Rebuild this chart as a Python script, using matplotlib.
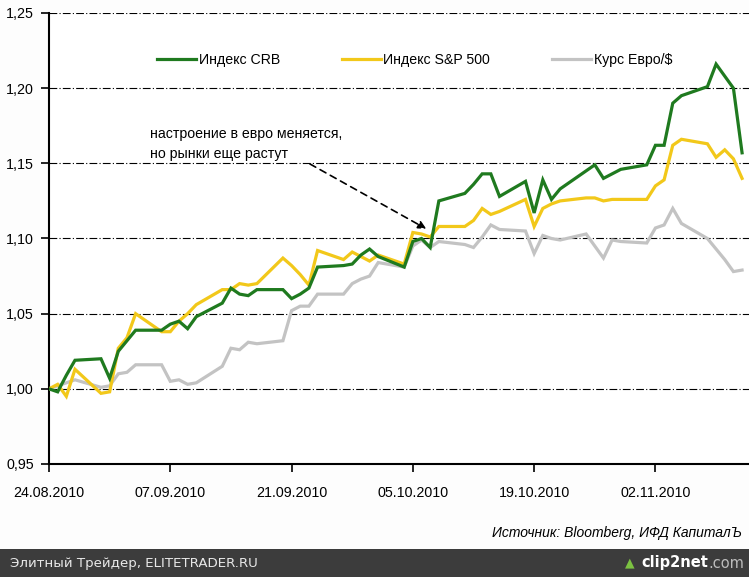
import matplotlib
matplotlib.use('Agg')
import matplotlib.pyplot as plt
import matplotlib.dates as mdates
from matplotlib.ticker import FuncFormatter
from matplotlib.lines import Line2D
import pandas as pd

plt.rcParams['font.family'] = ['Liberation Sans', 'DejaVu Sans']

# trading days (Sep 6 kept as in the source chart)
dates = pd.to_datetime([
    '2010-08-24', '2010-08-25', '2010-08-26', '2010-08-27', '2010-08-30', '2010-08-31',
    '2010-09-01', '2010-09-02', '2010-09-03', '2010-09-06', '2010-09-07', '2010-09-08',
    '2010-09-09', '2010-09-10', '2010-09-13', '2010-09-14', '2010-09-15', '2010-09-16',
    '2010-09-17', '2010-09-20', '2010-09-21', '2010-09-22', '2010-09-23', '2010-09-24',
    '2010-09-27', '2010-09-28', '2010-09-29', '2010-09-30', '2010-10-01', '2010-10-04',
    '2010-10-05', '2010-10-06', '2010-10-07', '2010-10-08', '2010-10-11', '2010-10-12',
    '2010-10-13', '2010-10-14', '2010-10-15', '2010-10-18', '2010-10-19', '2010-10-20',
    '2010-10-21', '2010-10-22', '2010-10-25', '2010-10-26', '2010-10-27', '2010-10-28',
    '2010-10-29', '2010-11-01', '2010-11-02', '2010-11-03', '2010-11-04', '2010-11-05',
    '2010-11-08', '2010-11-09', '2010-11-10', '2010-11-11', '2010-11-12',
])

crb = [1.000, 0.998, 1.009, 1.019, 1.020, 1.007, 1.025, 1.032, 1.039, 1.039,
       1.043, 1.045, 1.040, 1.048, 1.057, 1.067, 1.063, 1.062, 1.066, 1.066,
       1.060, 1.063, 1.067, 1.081, 1.082, 1.083, 1.089, 1.093, 1.088, 1.081,
       1.098, 1.100, 1.094, 1.125, 1.130, 1.136, 1.143, 1.143, 1.128, 1.138,
       1.117, 1.139, 1.126, 1.133, 1.145, 1.149, 1.140, 1.143, 1.146, 1.149,
       1.162, 1.162, 1.190, 1.195, 1.201, 1.216, 1.208, 1.200, 1.157]

sp500 = [1.000, 1.003, 0.995, 1.013, 0.997, 0.998, 1.027, 1.034, 1.050, 1.038,
         1.038, 1.045, 1.050, 1.056, 1.066, 1.066, 1.070, 1.069, 1.070, 1.087,
         1.082, 1.076, 1.069, 1.092, 1.086, 1.091, 1.088, 1.085, 1.089, 1.083,
         1.104, 1.103, 1.101, 1.108, 1.108, 1.112, 1.120, 1.116, 1.118, 1.126,
         1.108, 1.120, 1.123, 1.125, 1.127, 1.127, 1.125, 1.126, 1.126, 1.126,
         1.135, 1.139, 1.162, 1.166, 1.163, 1.154, 1.159, 1.153, 1.140]

eurusd = [1.000, 1.002, 1.004, 1.006, 1.001, 1.002, 1.010, 1.011, 1.016, 1.016,
          1.005, 1.006, 1.003, 1.004, 1.015, 1.027, 1.026, 1.031, 1.030, 1.032,
          1.052, 1.055, 1.055, 1.063, 1.063, 1.070, 1.073, 1.075, 1.084, 1.081,
          1.095, 1.099, 1.094, 1.098, 1.096, 1.094, 1.101, 1.109, 1.106, 1.105,
          1.090, 1.102, 1.100, 1.099, 1.103, 1.095, 1.087, 1.099, 1.098, 1.097,
          1.107, 1.109, 1.120, 1.110, 1.100, 1.093, 1.086, 1.078, 1.079]

labels = ['Индекс CRB', 'Индекс S&P 500', 'Курс Евро/$']
colors = ['#1f7a1f', '#f2c81a', '#c3c3c3']
tick_dates = pd.to_datetime(['2010-08-24', '2010-09-07', '2010-09-21',
                             '2010-10-05', '2010-10-19', '2010-11-02'])
y_ticks = [0.95, 1.00, 1.05, 1.10, 1.15, 1.20, 1.25]

fig = plt.figure(figsize=(7.49, 5.77), dpi=100)
fig.patch.set_facecolor('#fdfdfd')
ax = fig.add_axes([49 / 749, 1 - 464 / 577, 700 / 749, 451 / 577])
ax.set_facecolor('white')

# grid lines first so the series sit on top
for yv in y_ticks[1:]:
    ax.axhline(yv, color='black', linewidth=0.8, linestyle=(0, (7, 2, 1, 2)), zorder=1)

# grey first, then yellow, then green on top
for series, color in [(eurusd, colors[2]), (sp500, colors[1]), (crb, colors[0])]:
    ax.plot(dates, series, color=color, linewidth=2.3, solid_joinstyle='miter', zorder=3)

start = dates[0]
ax.set_xlim(start, start + pd.Timedelta(days=80.8))
ax.set_ylim(0.95, 1.25)

ax.set_xticks(tick_dates)
ax.xaxis.set_major_formatter(mdates.DateFormatter('%d.%m.%Y'))
ax.set_yticks(y_ticks)
ax.yaxis.set_major_formatter(FuncFormatter(lambda v, p: f'{v:.2f}'.replace('.', ',')))
ax.tick_params(axis='both', direction='out', length=6, width=1.2, labelsize=10.3,
               colors='black', pad=5)
ax.tick_params(axis='x', pad=10)

for side in ['top', 'right']:
    ax.spines[side].set_visible(False)
for side in ['left', 'bottom']:
    ax.spines[side].set_linewidth(1.5)

# legend in one row
handles = [Line2D([], [], color=c, linewidth=2.3) for c in colors]
fig.legend(handles, labels, ncol=3, frameon=False, loc='center left',
           bbox_to_anchor=(157 / 749, 1 - 60 / 577), fontsize=10.2,
           handlelength=2.75, handletextpad=0.2, columnspacing=4.35,
           borderpad=0, borderaxespad=0)

# annotation
fig.text(150 / 749, 1 - 144 / 577, 'настроение в евро меняется,\nно рынки еще растут',
         fontsize=10.2, va='center', ha='left', linespacing=1.55)
ax.annotate('', xy=(pd.Timestamp('2010-10-06 20:00'), 1.1055),
            xytext=(pd.Timestamp('2010-09-22 20:00'), 1.1505),
            arrowprops=dict(arrowstyle='-|>', color='black', linestyle=(0, (4, 3)),
                            linewidth=1.2, mutation_scale=12),
            zorder=4)

# source
fig.text(742 / 749, 1 - 533 / 577, 'Источник: Bloomberg, ИФД КапиталЪ',
         fontsize=10, style='italic', ha='right', va='center')

# bottom banner
fig.patches.append(plt.Rectangle((0, 0), 1, 28 / 577, transform=fig.transFigure,
                                 facecolor='#3c3c3c', edgecolor='none', zorder=0))
fig.text(10 / 749, 14 / 577, 'Элитный Трейдер, ELITETRADER.RU', color='#e8e8e8',
         fontsize=9.6, family='DejaVu Sans', va='center', ha='left')
fig.text(630 / 749, 14 / 577, '\u25b2', color='#7cc242', fontsize=9,
         family='DejaVu Sans', va='center', ha='center')
logo = fig.text(641 / 749, 14 / 577, 'clip2net', color='white', fontsize=10.5,
                weight='bold', family='DejaVu Sans', va='center', ha='left')
fig.canvas.draw()
bb = logo.get_window_extent()
fig.text(bb.x1 / fig.bbox.width, bb.y0 / fig.bbox.height, '.com', color='#bdbdbd',
         fontsize=10.5, family='DejaVu Sans', va='bottom', ha='left')

fig.savefig('out.png', dpi=100, facecolor=fig.get_facecolor())
